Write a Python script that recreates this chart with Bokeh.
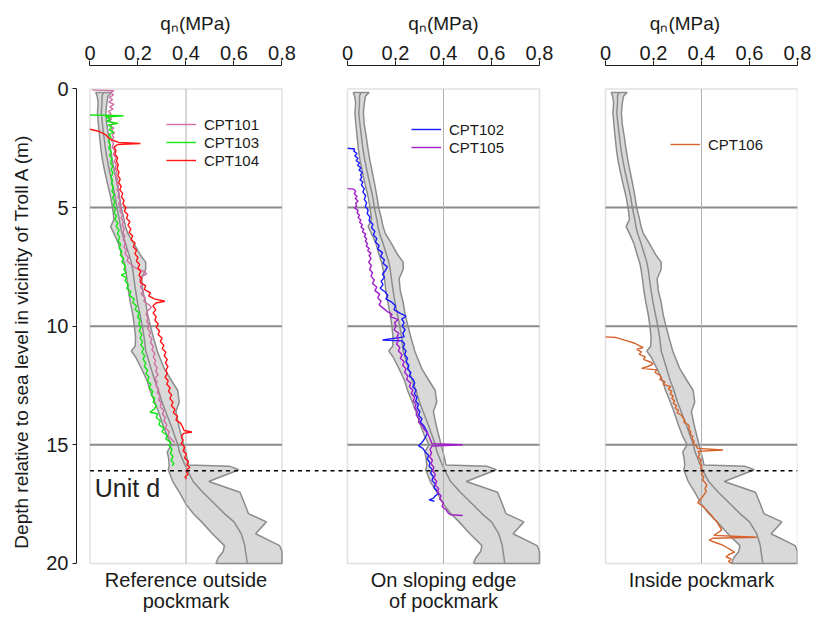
from bokeh.plotting import figure
from bokeh.layouts import row
from bokeh.models import Range1d, FixedTicker, Legend, LegendItem, Span, BoxAnnotation
from bokeh.embed import file_html
from bokeh.resources import INLINE
from bokeh.core.properties import value

# ---------------- data ----------------
X_TICKS = [0, 0.2, 0.4, 0.6, 0.8]
X_TICK_LABELS = ["0", "0.2", "0.4", "0.6", "0.8"]
Y_TICKS = [0, 5, 10, 15, 20]
GRID_DEPTHS = [5, 10, 15]
REF_QN = 0.4
UNIT_D_DEPTH = 16.1

# envelope of reference profiles (same in every panel)
ENV_DEPTH = [0.15, 0.3, 0.6, 1.0, 1.5, 2.0, 2.5, 3.0, 3.5, 4.0, 4.5, 5.0, 5.5, 5.8, 6.1,
             6.5, 7.0, 7.3, 7.6, 8.0, 8.5, 9.0, 9.5, 10.0, 10.5, 10.85, 11.05, 11.3, 11.8, 12.3,
             12.7, 13.2, 13.6, 14.2, 14.6, 15.0, 15.3, 15.6, 15.85, 15.9, 16.05, 16.55, 17.0, 17.5, 17.9,
             18.25, 18.75, 19.25, 19.5, 19.75, 20.0]
ENV_LOW = [0.024, 0.03, 0.034, 0.031, 0.035, 0.04, 0.045, 0.052, 0.062, 0.073, 0.085, 0.094, 0.1, 0.086, 0.1,
           0.118, 0.132, 0.142, 0.148, 0.154, 0.16, 0.168, 0.178, 0.185, 0.19, 0.188, 0.172, 0.19, 0.215, 0.238,
           0.25, 0.27, 0.285, 0.305, 0.32, 0.34, 0.322, 0.328, 0.33, 0.33, 0.326, 0.345, 0.372, 0.4, 0.43,
           0.465, 0.51, 0.56, 0.555, 0.535, 0.525]
ENV_MEAN = [0.056, 0.05, 0.05, 0.047, 0.052, 0.058, 0.064, 0.072, 0.082, 0.093, 0.104, 0.112, 0.122, 0.127, 0.134,
            0.148, 0.163, 0.172, 0.178, 0.183, 0.19, 0.198, 0.208, 0.218, 0.226, 0.23, 0.232, 0.24, 0.255, 0.27,
            0.285, 0.3, 0.315, 0.338, 0.352, 0.366, 0.373, 0.385, 0.395, 0.398, 0.404, 0.43, 0.47, 0.52, 0.56,
            0.6, 0.63, 0.645, 0.648, 0.652, 0.655]
ENV_HIGH = [0.09, 0.075, 0.07, 0.066, 0.07, 0.078, 0.085, 0.093, 0.103, 0.113, 0.122, 0.13, 0.142, 0.148, 0.158,
            0.182, 0.21, 0.232, 0.232, 0.215, 0.22, 0.232, 0.24, 0.252, 0.265, 0.275, 0.28, 0.29, 0.31, 0.34,
            0.365, 0.372, 0.358, 0.37, 0.38, 0.39, 0.398, 0.405, 0.41, 0.58, 0.62, 0.495, 0.625, 0.645, 0.66,
            0.735, 0.69, 0.79, 0.8, 0.8, 0.8]

CPT101_DEPTH = [0.05, 0.07, 0.15, 0.25, 0.35, 0.45, 0.55, 0.65, 0.75, 0.85, 0.95, 1.05, 1.15, 1.25, 1.35, 1.45,
                1.55, 1.65, 1.75, 1.85, 1.95, 2.05, 2.15, 2.30, 2.45, 2.60, 2.75, 2.90, 3.05, 3.20, 3.35, 3.50,
                3.65, 3.80, 3.95, 4.10, 4.25, 4.40, 4.55, 4.70, 4.85, 5.00, 5.15, 5.30, 5.45, 5.60, 5.75, 5.90,
                6.05, 6.20, 6.35, 6.50, 6.65, 6.80, 6.95, 7.10, 7.25, 7.40, 7.55, 7.70, 7.80, 7.90, 8.05, 8.20,
                8.35, 8.50, 8.65, 8.80, 8.95, 9.10, 9.20, 9.35, 9.50, 9.65, 9.80, 9.95, 10.10, 10.25, 10.40,
                10.55, 10.70, 10.85, 11.00, 11.15, 11.30, 11.45, 11.60, 11.75, 11.90, 12.05, 12.20, 12.35,
                12.50, 12.65, 12.80, 12.95, 13.10, 13.25, 13.40, 13.55, 13.70, 13.85, 14.00, 14.15, 14.30,
                14.45, 14.60, 14.75, 14.90]
CPT101_QN = [0.010, 0.100, 0.085, 0.098, 0.080, 0.094, 0.078, 0.100, 0.082, 0.096, 0.076, 0.088, 0.074, 0.090,
             0.080, 0.097, 0.085, 0.099, 0.088, 0.102, 0.092, 0.100, 0.088, 0.098, 0.092, 0.104, 0.097, 0.108,
             0.101, 0.110, 0.104, 0.113, 0.107, 0.116, 0.110, 0.119, 0.113, 0.122, 0.116, 0.126, 0.120, 0.130,
             0.124, 0.136, 0.130, 0.140, 0.134, 0.143, 0.137, 0.145, 0.138, 0.147, 0.141, 0.152, 0.146, 0.160,
             0.154, 0.172, 0.190, 0.228, 0.236, 0.214, 0.206, 0.218, 0.210, 0.222, 0.214, 0.230, 0.224, 0.246,
             0.256, 0.240, 0.234, 0.242, 0.236, 0.246, 0.240, 0.252, 0.246, 0.258, 0.252, 0.264, 0.258, 0.270,
             0.264, 0.274, 0.268, 0.280, 0.274, 0.284, 0.270, 0.279, 0.274, 0.286, 0.280, 0.292, 0.286, 0.298,
             0.292, 0.308, 0.302, 0.314, 0.308, 0.320, 0.315, 0.330, 0.325, 0.338, 0.352]

CPT103_DEPTH = [1.10, 1.13, 1.18, 1.28, 1.36, 1.45, 1.52, 1.62, 1.72, 1.82, 1.92, 2.05, 2.20, 2.35, 2.50, 2.65,
                2.80, 2.95, 3.10, 3.25, 3.40, 3.55, 3.70, 3.85, 4.00, 4.15, 4.30, 4.45, 4.60, 4.75, 4.90, 5.05,
                5.20, 5.35, 5.50, 5.65, 5.80, 5.95, 6.10, 6.25, 6.40, 6.55, 6.70, 6.85, 7.00, 7.15, 7.30, 7.45,
                7.60, 7.75, 7.85, 7.95, 8.10, 8.25, 8.40, 8.55, 8.70, 8.85, 9.00, 9.15, 9.30, 9.45, 9.60, 9.75,
                9.90, 10.05, 10.20, 10.35, 10.50, 10.65, 10.80, 10.95, 11.10, 11.25, 11.40, 11.55, 11.70, 11.85,
                12.00, 12.15, 12.30, 12.45, 12.60, 12.75, 12.90, 13.05, 13.20, 13.35, 13.50, 13.62, 13.70, 13.85,
                14.00, 14.15, 14.30, 14.45, 14.60, 14.75, 14.90, 15.05, 15.20, 15.35, 15.50, 15.65, 15.80, 15.88]
CPT103_QN = [0.000, 0.140, 0.065, 0.085, 0.070, 0.118, 0.075, 0.092, 0.080, 0.098, 0.079, 0.088, 0.076, 0.084,
             0.078, 0.089, 0.082, 0.092, 0.085, 0.095, 0.088, 0.096, 0.087, 0.094, 0.089, 0.098, 0.091, 0.101,
             0.094, 0.104, 0.097, 0.107, 0.100, 0.110, 0.104, 0.116, 0.109, 0.121, 0.114, 0.124, 0.117, 0.128,
             0.121, 0.133, 0.126, 0.140, 0.133, 0.148, 0.141, 0.150, 0.130, 0.152, 0.146, 0.160, 0.153, 0.170,
             0.164, 0.184, 0.178, 0.194, 0.188, 0.206, 0.198, 0.210, 0.203, 0.212, 0.205, 0.216, 0.209, 0.219,
             0.212, 0.224, 0.216, 0.228, 0.221, 0.233, 0.226, 0.240, 0.233, 0.246, 0.239, 0.254, 0.247, 0.262,
             0.255, 0.270, 0.263, 0.276, 0.268, 0.250, 0.282, 0.276, 0.293, 0.287, 0.308, 0.300, 0.322, 0.316,
             0.336, 0.330, 0.342, 0.335, 0.346, 0.338, 0.350, 0.342]

CPT104_DEPTH = [1.70, 1.78, 1.85, 1.95, 2.05, 2.15, 2.25, 2.30, 2.34, 2.45, 2.60, 2.75, 2.90, 3.05, 3.20, 3.35,
                3.50, 3.65, 3.80, 3.95, 4.10, 4.25, 4.40, 4.55, 4.70, 4.85, 5.00, 5.15, 5.30, 5.45, 5.60, 5.75,
                5.90, 6.05, 6.20, 6.35, 6.50, 6.65, 6.80, 6.95, 7.10, 7.25, 7.40, 7.55, 7.70, 7.85, 8.00, 8.15,
                8.30, 8.45, 8.60, 8.72, 8.85, 8.95, 9.02, 9.15, 9.30, 9.45, 9.60, 9.75, 9.90, 10.05, 10.20, 10.35,
                10.50, 10.65, 10.80, 10.95, 11.10, 11.25, 11.40, 11.55, 11.70, 11.85, 12.00, 12.15, 12.30, 12.45,
                12.60, 12.75, 12.90, 13.05, 13.20, 13.35, 13.50, 13.65, 13.80, 13.95, 14.10, 14.25, 14.40, 14.46,
                14.52, 14.65, 14.80, 14.95, 15.10, 15.25, 15.40, 15.55, 15.70, 15.85, 15.95, 16.10, 16.25, 16.35,
                16.45]
CPT104_QN = [0.000, 0.035, 0.050, 0.068, 0.075, 0.092, 0.120, 0.210, 0.115, 0.100, 0.108, 0.104, 0.115, 0.110,
             0.118, 0.112, 0.121, 0.116, 0.126, 0.119, 0.130, 0.124, 0.136, 0.131, 0.142, 0.137, 0.150, 0.143,
             0.158, 0.152, 0.166, 0.158, 0.170, 0.163, 0.178, 0.171, 0.188, 0.180, 0.194, 0.187, 0.200, 0.193,
             0.207, 0.199, 0.212, 0.204, 0.216, 0.209, 0.232, 0.226, 0.252, 0.244, 0.268, 0.312, 0.275, 0.262,
             0.274, 0.263, 0.276, 0.270, 0.284, 0.276, 0.290, 0.284, 0.300, 0.293, 0.308, 0.301, 0.316, 0.309,
             0.322, 0.314, 0.325, 0.316, 0.322, 0.313, 0.326, 0.320, 0.334, 0.327, 0.340, 0.333, 0.346, 0.339,
             0.354, 0.347, 0.365, 0.358, 0.378, 0.386, 0.392, 0.425, 0.390, 0.381, 0.388, 0.380, 0.395, 0.388,
             0.402, 0.394, 0.410, 0.403, 0.416, 0.400, 0.408, 0.396, 0.402]

CPT102_DEPTH = [2.50, 2.53, 2.62, 2.72, 2.82, 2.92, 3.02, 3.12, 3.22, 3.32, 3.42, 3.52, 3.62, 3.72, 3.82, 3.92,
                4.05, 4.20, 4.35, 4.50, 4.65, 4.80, 4.95, 5.10, 5.25, 5.40, 5.55, 5.70, 5.85, 6.00, 6.15, 6.30,
                6.45, 6.60, 6.75, 6.90, 7.05, 7.20, 7.35, 7.50, 7.65, 7.80, 7.95, 8.10, 8.25, 8.40, 8.55, 8.70,
                8.85, 9.00, 9.15, 9.30, 9.45, 9.58, 9.70, 9.85, 10.00, 10.15, 10.30, 10.45, 10.58, 10.62, 10.75,
                10.90, 11.05, 11.20, 11.35, 11.50, 11.65, 11.80, 11.95, 12.10, 12.25, 12.40, 12.55, 12.70, 12.85,
                13.00, 13.15, 13.30, 13.45, 13.60, 13.75, 13.90, 14.05, 14.20, 14.35, 14.50, 14.65, 14.80, 14.95,
                15.05, 15.15, 15.30, 15.45, 15.60, 15.75, 15.90, 16.05, 16.20, 16.35, 16.50, 16.65, 16.80, 16.95,
                17.05, 17.15, 17.25, 17.32, 17.38]
CPT102_QN = [0.000, 0.030, 0.026, 0.040, 0.030, 0.044, 0.036, 0.050, 0.042, 0.056, 0.048, 0.062, 0.054, 0.060,
             0.052, 0.064, 0.058, 0.070, 0.064, 0.076, 0.070, 0.080, 0.074, 0.086, 0.082, 0.094, 0.090, 0.106,
             0.100, 0.114, 0.108, 0.122, 0.116, 0.132, 0.126, 0.146, 0.138, 0.154, 0.148, 0.166, 0.158, 0.146,
             0.154, 0.140, 0.148, 0.136, 0.156, 0.168, 0.160, 0.186, 0.200, 0.194, 0.218, 0.244, 0.226, 0.236,
             0.228, 0.240, 0.230, 0.236, 0.146, 0.228, 0.238, 0.232, 0.244, 0.238, 0.250, 0.244, 0.256, 0.250,
             0.264, 0.258, 0.274, 0.280, 0.272, 0.286, 0.278, 0.290, 0.284, 0.296, 0.290, 0.302, 0.296, 0.310,
             0.304, 0.318, 0.326, 0.334, 0.326, 0.318, 0.306, 0.296, 0.314, 0.324, 0.338, 0.332, 0.344, 0.340,
             0.354, 0.346, 0.358, 0.352, 0.366, 0.360, 0.374, 0.380, 0.366, 0.358, 0.340, 0.362]

CPT105_DEPTH = [4.20, 4.22, 4.32, 4.42, 4.52, 4.62, 4.72, 4.82, 4.92, 5.02, 5.12, 5.22, 5.32, 5.42, 5.52, 5.62,
                5.72, 5.82, 5.92, 6.02, 6.12, 6.22, 6.32, 6.42, 6.52, 6.62, 6.72, 6.82, 6.92, 7.02, 7.15, 7.30,
                7.45, 7.60, 7.75, 7.90, 8.05, 8.20, 8.35, 8.50, 8.65, 8.80, 8.95, 9.10, 9.25, 9.40, 9.50, 9.60,
                9.72, 9.85, 10.00, 10.15, 10.30, 10.45, 10.60, 10.75, 10.90, 11.05, 11.20, 11.35, 11.50, 11.65,
                11.80, 11.95, 12.10, 12.25, 12.40, 12.55, 12.70, 12.85, 13.00, 13.15, 13.30, 13.45, 13.60, 13.75,
                13.90, 14.05, 14.20, 14.35, 14.50, 14.65, 14.80, 14.95, 15.00, 15.05, 15.20, 15.35, 15.50, 15.65,
                15.80, 15.95, 16.10, 16.25, 16.40, 16.55, 16.70, 16.85, 17.00, 17.15, 17.30, 17.45, 17.60, 17.75,
                17.88, 17.95, 17.98]
CPT105_QN = [0.000, 0.026, 0.034, 0.028, 0.040, 0.032, 0.044, 0.034, 0.038, 0.030, 0.044, 0.040, 0.050, 0.044,
             0.056, 0.050, 0.062, 0.056, 0.068, 0.062, 0.076, 0.070, 0.080, 0.074, 0.084, 0.078, 0.090, 0.084,
             0.098, 0.090, 0.098, 0.088, 0.100, 0.092, 0.104, 0.098, 0.112, 0.104, 0.122, 0.114, 0.134, 0.126,
             0.140, 0.132, 0.150, 0.168, 0.186, 0.178, 0.212, 0.196, 0.202, 0.194, 0.214, 0.206, 0.212, 0.204,
             0.218, 0.212, 0.228, 0.220, 0.236, 0.230, 0.244, 0.238, 0.252, 0.246, 0.264, 0.258, 0.272, 0.266,
             0.280, 0.274, 0.286, 0.280, 0.292, 0.286, 0.300, 0.296, 0.312, 0.320, 0.332, 0.340, 0.346, 0.352,
             0.480, 0.352, 0.344, 0.350, 0.342, 0.354, 0.348, 0.360, 0.354, 0.366, 0.360, 0.372, 0.366, 0.380,
             0.374, 0.390, 0.384, 0.400, 0.394, 0.412, 0.420, 0.430, 0.480]

CPT106_DEPTH = [10.45, 10.48, 10.62, 10.72, 10.82, 10.90, 10.98, 11.08, 11.18, 11.30, 11.40, 11.52, 11.60, 11.70,
                11.78, 11.84, 11.95, 12.05, 12.15, 12.25, 12.35, 12.45, 12.55, 12.65, 12.75, 12.85, 12.95, 13.05,
                13.15, 13.25, 13.35, 13.45, 13.55, 13.65, 13.75, 13.85, 13.95, 14.05, 14.15, 14.25, 14.35, 14.45,
                14.55, 14.65, 14.75, 14.85, 14.95, 15.05, 15.15, 15.22, 15.28, 15.40, 15.52, 15.64, 15.76, 15.88,
                16.00, 16.12, 16.24, 16.36, 16.48, 16.60, 16.72, 16.84, 16.96, 17.08, 17.20, 17.32, 17.44, 17.52,
                17.64, 17.76, 17.88, 18.00, 18.12, 18.24, 18.36, 18.48, 18.60, 18.72, 18.82, 18.90, 18.94, 19.02,
                19.12, 19.22, 19.32, 19.42, 19.52, 19.62, 19.72, 19.82, 19.92, 20.00]
CPT106_QN = [0.000, 0.045, 0.090, 0.122, 0.140, 0.157, 0.130, 0.150, 0.140, 0.166, 0.158, 0.190, 0.198, 0.176,
             0.150, 0.214, 0.206, 0.224, 0.232, 0.226, 0.248, 0.240, 0.272, 0.262, 0.276, 0.270, 0.282, 0.276,
             0.288, 0.282, 0.296, 0.290, 0.304, 0.298, 0.316, 0.322, 0.330, 0.326, 0.344, 0.350, 0.346, 0.356,
             0.352, 0.364, 0.360, 0.370, 0.366, 0.378, 0.384, 0.490, 0.386, 0.392, 0.386, 0.398, 0.392, 0.402,
             0.396, 0.406, 0.400, 0.410, 0.404, 0.416, 0.422, 0.414, 0.420, 0.412, 0.404, 0.394, 0.384, 0.396,
             0.410, 0.422, 0.432, 0.444, 0.452, 0.464, 0.470, 0.478, 0.484, 0.466, 0.452, 0.630, 0.446, 0.432,
             0.458, 0.486, 0.504, 0.520, 0.538, 0.516, 0.502, 0.524, 0.512, 0.526]

SERIES = {
    "CPT101": (CPT101_DEPTH, CPT101_QN, "#cf6fa6"),
    "CPT103": (CPT103_DEPTH, CPT103_QN, "#14e614"),
    "CPT104": (CPT104_DEPTH, CPT104_QN, "#ff1414"),
    "CPT102": (CPT102_DEPTH, CPT102_QN, "#1a1aff"),
    "CPT105": (CPT105_DEPTH, CPT105_QN, "#a01ec8"),
    "CPT106": (CPT106_DEPTH, CPT106_QN, "#d4622a"),
}
PANEL_SERIES = [["CPT101", "CPT103", "CPT104"], ["CPT102", "CPT105"], ["CPT106"]]
PANEL_CAPTIONS = [["Reference outside", "pockmark"], ["On sloping edge", "of pockmark"], ["Inside pockmark"]]

# ---------------- layout ----------------
FONT = "Liberation Sans"
FRAME_H = 551
Y_END = -0.99
Y_START = Y_END + FRAME_H / 23.72
PANEL_X = [(-0.05625, 0.93542, 238, 76, 0, (90, 447)),
           (-0.1375, 0.9375, 258, 0, 0, (97, 460)),
           (-0.1375, 0.8, 225, 0, 20, (98, 463))]
CAPTION_Y = [20.72, 21.6]

figs = []
for i, (x0, x1, fw, bl, br, legloc) in enumerate(PANEL_X):
    show_y = (i == 0)
    p = figure(x_range=Range1d(x0, x1), y_range=Range1d(Y_START, Y_END),
               frame_width=fw, frame_height=FRAME_H,
               min_border_left=bl, min_border_right=br, min_border_top=65, min_border_bottom=0,
               x_axis_location="above", y_axis_location="left" if show_y else None,
               toolbar_location=None, tools="", output_backend="svg")
    p.outline_line_color = None
    p.xgrid.visible = False
    p.ygrid.visible = False

    ax = p.xaxis[0]
    ax.bounds = (0, 0.8)
    ax.ticker = FixedTicker(ticks=X_TICKS)
    ax.major_label_overrides = dict(zip(X_TICKS, X_TICK_LABELS))
    ax.minor_tick_line_color = None
    ax.major_tick_out = 5
    ax.major_tick_in = 0
    ax.axis_line_color = "#1a1a1a"
    ax.major_tick_line_color = "#1a1a1a"
    ax.major_label_text_font = FONT
    ax.major_label_text_font_size = "20px"
    ax.major_label_text_color = "#1a1a1a"
    ax.major_label_standoff = 1
    ax.axis_label = "qₙ(MPa)"
    ax.axis_label_text_font = FONT
    ax.axis_label_text_font_size = "19px"
    ax.axis_label_text_font_style = "normal"
    ax.axis_label_text_color = "#1a1a1a"
    ax.axis_label_standoff = 9

    if show_y:
        ya = p.yaxis[0]
        ya.bounds = (0, 20)
        ya.ticker = FixedTicker(ticks=Y_TICKS)
        ya.minor_tick_line_color = None
        ya.major_tick_out = 4
        ya.major_tick_in = 0
        ya.axis_line_color = "#1a1a1a"
        ya.major_tick_line_color = "#1a1a1a"
        ya.major_label_text_font = FONT
        ya.major_label_text_font_size = "20px"
        ya.major_label_text_color = "#1a1a1a"
        ya.major_label_standoff = 4
        ya.axis_label = "Depth relative to sea level in vicinity of Troll A (m)"
        ya.axis_label_text_font = FONT
        ya.axis_label_text_font_size = "19px"
        ya.axis_label_text_font_style = "normal"
        ya.axis_label_text_color = "#1a1a1a"
        ya.axis_label_standoff = 11

    # envelope band
    p.patch(x=ENV_LOW + ENV_HIGH[::-1], y=ENV_DEPTH + ENV_DEPTH[::-1],
            fill_color="#d9d9d9", line_color="#8c8c8c", line_width=1.5)
    p.line(x=ENV_MEAN, y=ENV_DEPTH, line_color="#8c8c8c", line_width=1.5)

    # reference lines
    p.segment(x0=[0] * len(GRID_DEPTHS), x1=[0.8] * len(GRID_DEPTHS), y0=GRID_DEPTHS, y1=GRID_DEPTHS,
              line_color="#8a8a8a", line_width=2)
    p.segment(x0=[REF_QN], x1=[REF_QN], y0=[0], y1=[20], line_color="#b0b0b0", line_width=1)
    p.add_layout(BoxAnnotation(left=0, right=0.8, top=0, bottom=20, fill_alpha=0,
                               line_color="#9a9a9a", line_width=1.5))

    items = []
    for name in PANEL_SERIES[i]:
        d, q, c = SERIES[name]
        r = p.line(x=q, y=d, line_color=c, line_width=1.4)
        items.append(LegendItem(label=name, renderers=[r]))

    # Unit d boundary
    if i == 0:
        p.segment(x0=[0], x1=[x1], y0=[UNIT_D_DEPTH], y1=[UNIT_D_DEPTH],
                  line_color="black", line_width=1.5, line_dash="4 4")
        p.text(x=[0.02], y=[16.84], text=["Unit d"], text_font=value(FONT), text_font_size="25px",
               text_baseline="middle", text_align="left", text_color="#222222")
    elif i == 1:
        p.add_layout(Span(location=UNIT_D_DEPTH, dimension="width", line_color="black",
                          line_width=1.5, line_dash="4 4"))
    else:
        p.segment(x0=[x0], x1=[0.8], y0=[UNIT_D_DEPTH], y1=[UNIT_D_DEPTH],
                  line_color="black", line_width=1.5, line_dash="4 4")

    caps = PANEL_CAPTIONS[i]
    p.text(x=[0.4] * len(caps), y=CAPTION_Y[:len(caps)], text=caps, text_font=value(FONT),
           text_font_size="20px", text_align="center", text_baseline="middle", text_color="#1a1a1a")

    legend = Legend(items=items, location=legloc, padding=0, margin=0, spacing=0,
                    glyph_width=30, glyph_height=18, label_height=18, label_standoff=8,
                    border_line_color=None, background_fill_alpha=0,
                    label_text_font=FONT, label_text_font_size="15px", label_text_color="#1a1a1a")
    p.add_layout(legend)
    figs.append(p)

layout = row(*figs)
open("out.html", "w").write(file_html(layout, INLINE))
